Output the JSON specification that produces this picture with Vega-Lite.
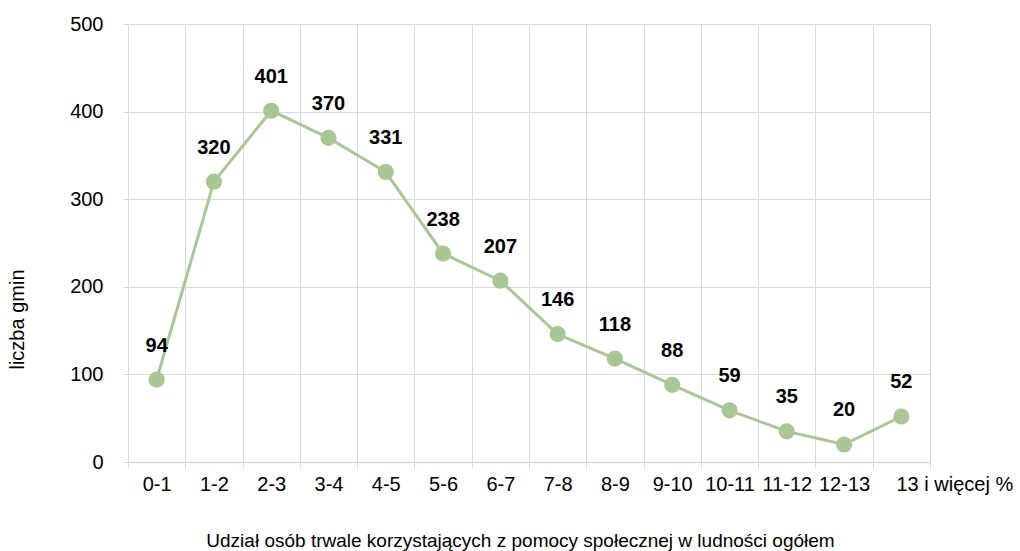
{
  "$schema": "https://vega.github.io/schema/vega-lite/v6.json",
  "width": 802,
  "height": 438,
  "autosize": {"type": "none"},
  "padding": {"left": 128, "top": 24, "right": 90, "bottom": 89},
  "background": "white",
  "config": {
    "font": "Liberation Sans",
    "view": {"stroke": null}
  },
  "data": {
    "values": [
      {"kat": "0-1", "liczba": 94},
      {"kat": "1-2", "liczba": 320},
      {"kat": "2-3", "liczba": 401},
      {"kat": "3-4", "liczba": 370},
      {"kat": "4-5", "liczba": 331},
      {"kat": "5-6", "liczba": 238},
      {"kat": "6-7", "liczba": 207},
      {"kat": "7-8", "liczba": 146},
      {"kat": "8-9", "liczba": 118},
      {"kat": "9-10", "liczba": 88},
      {"kat": "10-11", "liczba": 59},
      {"kat": "11-12", "liczba": 35},
      {"kat": "12-13", "liczba": 20},
      {"kat": "13 i więcej %", "liczba": 52}
    ]
  },
  "encoding": {
    "x": {
      "field": "kat",
      "type": "ordinal",
      "sort": null,
      "scale": {"type": "band", "paddingInner": 0, "paddingOuter": 0},
      "axis": {
        "title": "Udział osób trwale korzystających z pomocy społecznej w ludności ogółem",
        "titleFontSize": 19,
        "titleFontWeight": "normal",
        "titleColor": "#000000",
        "titleY": 84,
        "titleX": 392,
        "titleBaseline": "alphabetic",
        "labelAngle": 0,
        "labelFontSize": 20,
        "labelColor": "#000000",
        "labelPadding": 6,
        "labelOffset": {"expr": "datum.value == '13 i więcej %' ? 53 : 0"},
        "tickBand": "extent",
        "tickSize": 6,
        "tickColor": "#d9d9d9",
        "domainColor": "#d9d9d9",
        "domainWidth": 1.5,
        "grid": true,
        "gridColor": "#d9d9d9"
      }
    },
    "y": {
      "field": "liczba",
      "type": "quantitative",
      "scale": {"domain": [0, 500]},
      "axis": {
        "title": "liczba gmin",
        "titleFontSize": 20,
        "titleFontWeight": "normal",
        "titleColor": "#000000",
        "titleX": -111,
        "titleY": 295,
        "titleAngle": -90,
        "titleAlign": "center",
        "titleBaseline": "middle",
        "values": [0, 100, 200, 300, 400, 500],
        "labelFontSize": 20,
        "labelColor": "#000000",
        "labelPadding": 20,
        "tickSize": 5,
        "tickColor": "#d9d9d9",
        "domain": false,
        "gridColor": "#d9d9d9"
      }
    }
  },
  "layer": [
    {
      "mark": {"type": "line", "color": "#a9c795", "strokeWidth": 3}
    },
    {
      "mark": {"type": "point", "filled": true, "opacity": 1, "color": "#a9c795", "size": 260}
    },
    {
      "mark": {"type": "text", "fontSize": 20, "fontWeight": "bold", "color": "#000000", "dy": -34, "baseline": "middle"},
      "encoding": {"text": {"field": "liczba", "type": "quantitative"}}
    }
  ]
}
